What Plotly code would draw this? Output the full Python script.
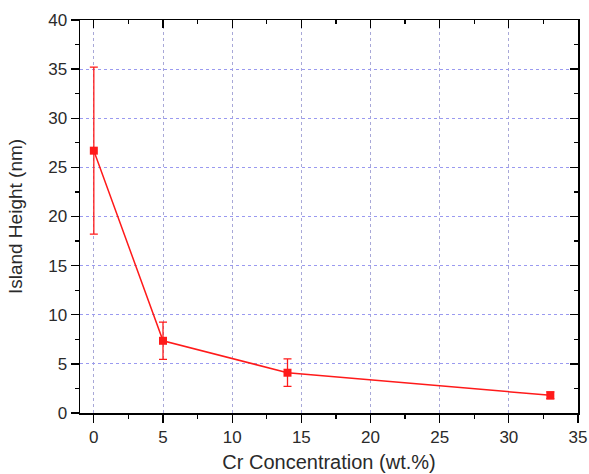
import plotly.graph_objects as go

cr_conc = [0, 5, 14, 33]
island_height = [26.7, 7.35, 4.1, 1.8]
height_err = [8.5, 1.9, 1.4, 0.35]
x_ticks = [0, 5, 10, 15, 20, 25, 30, 35]
y_ticks = [0, 5, 10, 15, 20, 25, 30, 35, 40]

red = "#ff1a1a"
font = "Liberation Sans, Arial, sans-serif"
txt = "#2a2a2a"

fig = go.Figure()
fig.add_trace(go.Scatter(
    x=cr_conc, y=island_height,
    mode="lines+markers",
    line=dict(color=red, width=1.5),
    marker=dict(symbol="square", size=8, color=red),
    error_y=dict(type="data", array=height_err, color=red, thickness=1.3, width=4),
    showlegend=False,
))

axis_common = dict(
    showline=True, linecolor="black", linewidth=1.5,
    zeroline=False, automargin=False,
    tickfont=dict(family=font, size=17, color=txt),
    tickcolor="black", tickwidth=1.3,
)

fig.update_layout(
    width=589, height=474,
    margin=dict(l=80, r=11, t=20, b=61),
    paper_bgcolor="white", plot_bgcolor="white",
    font=dict(family=font, color=txt),
    xaxis=dict(
        range=[-1, 35], tickvals=x_ticks, ticks="outside", ticklen=8,
        showgrid=True, gridcolor="#a8a8d8", griddash="dot", gridwidth=1,
        minor=dict(dtick=2.5, tick0=0, ticks="outside", ticklen=4, tickcolor="black", tickwidth=1.2, showgrid=False),
        title=dict(text="Cr Concentration (wt.%)", font=dict(family=font, size=20, color=txt), standoff=9),
        **axis_common,
    ),
    yaxis=dict(
        range=[0, 40], tickvals=y_ticks, ticks="outside", ticklen=8,
        showgrid=True, gridcolor="#9a9af0", griddash="dot", gridwidth=1,
        minor=dict(dtick=2.5, tick0=0, ticks="outside", ticklen=4, tickcolor="black", tickwidth=1.2, showgrid=False),
        title=dict(text="Island Height (nm)", font=dict(family=font, size=19, color=txt), standoff=20),
        **axis_common,
    ),
    xaxis2=dict(
        overlaying="x", side="top", range=[-1, 35], tickvals=x_ticks,
        ticks="inside", ticklen=8, showticklabels=False, showgrid=False,
        minor=dict(dtick=2.5, tick0=0, ticks="inside", ticklen=4, tickcolor="black", tickwidth=1.2),
        **axis_common,
    ),
    yaxis2=dict(
        overlaying="y", side="right", range=[0, 40], tickvals=y_ticks,
        ticks="inside", ticklen=8, showticklabels=False, showgrid=False,
        minor=dict(dtick=2.5, tick0=0, ticks="inside", ticklen=4, tickcolor="black", tickwidth=1.2),
        **axis_common,
    ),
)

fig.add_trace(go.Scatter(x=cr_conc, y=island_height, xaxis="x2", yaxis="y2",
                         mode="markers", marker=dict(opacity=0), hoverinfo="skip", showlegend=False))

fig.write_html("out.html",
               config={"displayModeBar": False, "staticPlot": True},
               post_script="document.body.style.margin='0';document.body.style.overflow='hidden';")
